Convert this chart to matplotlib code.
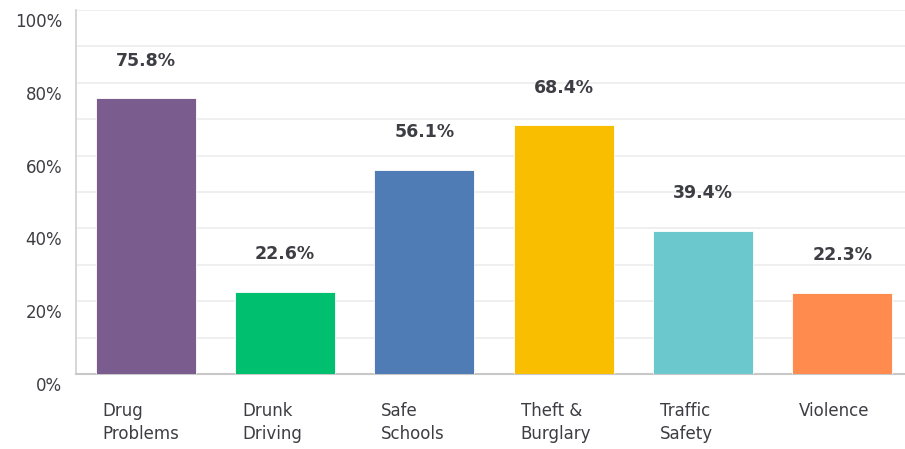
import numpy as np
import matplotlib.pyplot as plt
from matplotlib.ticker import FuncFormatter
import matplotlib.transforms as mtransforms

categories = ["Drug\nProblems", "Drunk\nDriving", "Safe\nSchools",
              "Theft &\nBurglary", "Traffic\nSafety", "Violence"]
values = [75.8, 22.6, 56.1, 68.4, 39.4, 22.3]
colors = ["#7b5c8e", "#00bf6f", "#507cb6", "#f9be00", "#6bc8cd", "#ff8b4f"]

text_col = "#3d3d44"
fig = plt.figure(figsize=(9.05, 4.49), dpi=100)
ax = fig.add_axes([76 / 905, (449 - 374) / 449, (905 - 76) / 905, 364 / 449])

x = np.arange(len(categories))
width = 0.717
ax.bar(x, values, width=width, color=colors, zorder=3,
       edgecolor="white", linewidth=0.6)

for xi, v in zip(x, values):
    ax.annotate(f"{v:.1f}%", (xi, v), xytext=(0, 20.5), textcoords="offset points",
                ha="center", va="bottom", fontsize=12.5, fontweight="bold",
                color=text_col)

ax.set_xlim(-0.5, 5.45)
ax.set_ylim(0, 100)
ax.set_yticks(np.arange(0, 101, 20))
ax.set_yticks(np.arange(0, 101, 10), minor=True)
ax.yaxis.set_major_formatter(FuncFormatter(lambda v, p: f"{v:.0f}%"))
ax.grid(axis="y", which="both", color="#ececec", linewidth=1.2, zorder=0)
ax.tick_params(axis="y", which="both", length=0, pad=10, labelsize=12,
               labelcolor=text_col)
down = mtransforms.ScaledTranslation(0, -10 / 100, fig.dpi_scale_trans)
for lab in ax.get_yticklabels():
    lab.set_transform(lab.get_transform() + down)

ax.set_xticks(x - width / 2)
ax.set_xticklabels(categories, ha="left", fontsize=12, color=text_col,
                   linespacing=1.35)
ax.tick_params(axis="x", length=0, pad=20)
shift = mtransforms.ScaledTranslation(7 / 100, 0, fig.dpi_scale_trans)
for lab in ax.get_xticklabels():
    lab.set_transform(lab.get_transform() + shift)

for s in ["top", "right"]:
    ax.spines[s].set_visible(False)
ax.spines["left"].set_color("#d0d0d0")
ax.spines["bottom"].set_color("#c8c8c8")
ax.spines["left"].set_linewidth(1.2)
ax.spines["bottom"].set_linewidth(1.5)

fig.savefig("out.png", dpi=100)
